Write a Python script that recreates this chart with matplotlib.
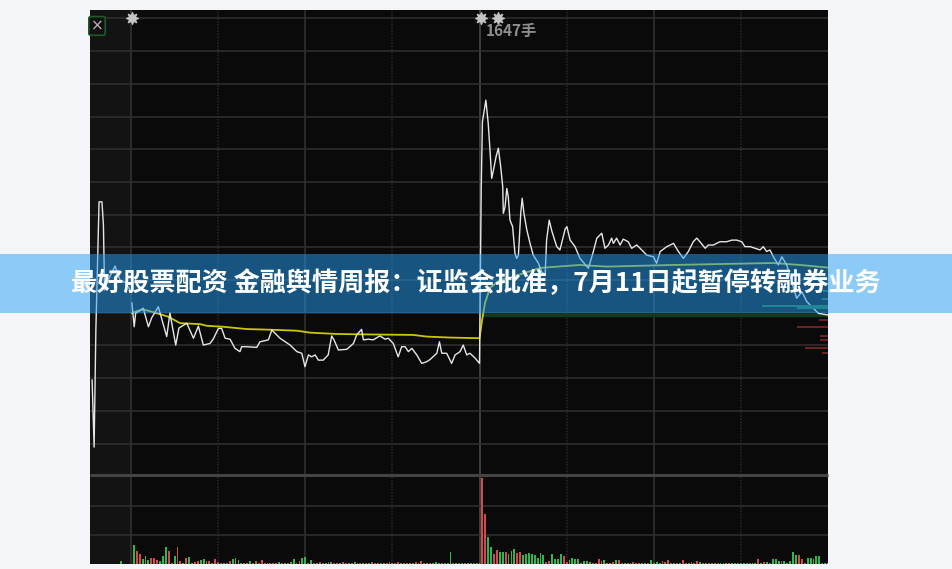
import matplotlib
matplotlib.use('Agg')
import matplotlib.pyplot as plt
from matplotlib.patches import Rectangle

plt.rcParams['font.family'] = ['Noto Sans CJK SC', 'DejaVu Sans']

# ---- data (minutes from the 9:30 open, % change vs previous close) ----
auction_min = [-13.4, -12.7, -12.1, -11.0, -10.0, -9.5, -9.1, -7.9, -6.5, -5.5, -3.8, -1.7, 0.0]
auction_pct = [-3.06, -5.11, -1.53, 2.39, 2.39, 1.68, -0.31, 0.0, 0.24, 0.43, 0.0, -0.09, -0.37]

price_min = [0.3, 1.1, 1.6, 2.5, 4.2, 6.0, 7.1, 9.4, 12.3, 13.4, 15.4, 16.5, 19.2, 21.5, 23.2,
             24.9, 27.2, 28.3, 30.1, 31.2, 32.4, 34.1, 35.8, 37.5, 38.1, 39.8, 43.3, 44.4, 47.3,
             48.5, 49.6, 51.3, 54.8, 57.1, 58.8, 59.9, 61.1, 62.2, 63.4, 64.5, 66.2, 67.9, 69.1,
             69.9, 71.4, 74.3, 76.6, 77.7, 79.4, 80.0, 81.7, 83.4, 85.7, 87.5, 88.6, 90.3, 92.0,
             93.2, 94.4, 95.5, 96.7, 98.4, 100.1, 101.8, 103.0, 105.3, 106.2, 107.0, 108.7, 110.4,
             111.6, 113.3, 114.4, 115.6, 116.7, 118.5, 120.0,
             120.6, 121.0, 122.2, 123.0, 123.6, 124.2, 124.8, 125.7, 126.5, 127.3, 128.0, 128.2,
             128.8, 129.4, 129.9, 130.5, 131.4, 132.2, 132.8, 133.4, 134.2, 134.7, 135.3, 136.3,
             137.4, 138.5, 140.3, 141.4, 142.6, 143.1, 144.0, 144.9, 146.6, 147.7, 149.5, 150.1,
             151.2, 152.9, 154.6, 157.5, 159.2, 160.4, 162.1, 163.2, 164.4, 165.5, 166.1, 167.2,
             168.4, 169.5, 171.2, 172.4, 174.1, 175.3, 177.6, 179.9, 181.0, 182.2, 184.5, 186.8,
             188.5, 190.2, 191.9, 193.6, 194.8, 195.9, 197.7, 198.8, 200.5, 202.8, 205.1, 206.9,
             208.6, 210.3, 211.4, 213.2, 214.9, 216.6, 217.7, 218.9, 220.0, 221.2, 222.9, 224.1,
             225.8, 227.5, 229.2, 231.0, 232.7, 235.0, 236.7, 240.0]
price_pct = [-0.70, -1.43, -1.01, -0.97, -0.86, -1.43, -1.16, -0.82, -1.73, -1.01, -1.99, -1.47,
             -1.32, -1.78, -1.41, -1.99, -1.94, -1.81, -1.48, -1.48, -1.78, -1.81, -2.09, -2.19,
             -2.04, -2.04, -2.06, -1.89, -1.83, -1.53, -1.63, -1.78, -1.99, -2.19, -2.24, -2.65,
             -2.29, -2.35, -2.29, -2.45, -2.45, -2.29, -1.71, -1.83, -2.14, -2.12, -1.94, -1.68,
             -1.51, -1.83, -1.81, -1.83, -1.71, -1.81, -1.78, -1.94, -2.35, -2.04, -2.04, -2.19,
             -2.09, -2.29, -2.55, -2.50, -2.43, -2.24, -1.89, -2.24, -2.24, -2.55, -2.29, -2.19,
             -1.99, -2.29, -2.24, -2.39, -2.55,
             2.85, 4.84, 5.50, 4.79, 3.98, 3.11, 3.36, 3.77, 4.03, 3.46, 2.85, 2.04, 2.24, 2.80,
             2.55, 1.83, 1.63, 0.82, 0.66, 0.76, 2.04, 2.50, 2.04, 1.53, 1.12, 0.76, 0.51, 0.25,
             0.15, 1.22, 1.83, 1.50, 1.02, 0.92, 1.56, 1.63, 1.22, 1.02, 0.66, 0.36, 0.87, 1.28,
             1.43, 0.97, 1.07, 1.28, 1.12, 1.28, 1.07, 1.25, 1.17, 0.97, 1.07, 0.97, 0.76, 0.71,
             0.51, 0.87, 1.02, 1.12, 0.87, 0.66, 0.87, 1.17, 1.28, 1.17, 0.97, 1.07, 1.07, 1.17,
             1.17, 1.22, 1.22, 1.17, 1.02, 1.02, 0.97, 0.92, 1.02, 0.87, 0.92, 0.71, 0.46, 0.71,
             0.46, -0.05, -0.56, -0.36, -0.66, -0.87, -1.02, -1.07]

avg_min = [0.3, 2.1, 4.2, 7.1, 12.8, 16.9, 23.8, 26.1, 31.8, 35.2, 39.8, 47.9, 57.1, 61.6, 70.8,
           77.7, 97.2, 101.8, 109.8, 120.0, 120.9, 121.9, 123.6, 127.1, 131.5, 140.8, 154.6,
           163.8, 186.6, 221.1, 230.4, 240.0]
avg_pct = [-1.01, -0.95, -0.90, -0.97, -1.12, -1.32, -1.35, -1.40, -1.43, -1.46, -1.50, -1.52,
           -1.55, -1.61, -1.65, -1.66, -1.68, -1.73, -1.76, -1.78, -1.22, -0.70, -0.24, 0.0,
           0.10, 0.37, 0.46, 0.41, 0.46, 0.52, 0.46, 0.38]

# volume in lots, minutes 1..240; 'r' = up tick, 'g' = down tick
volume = [363, 248, 185, 95, 153, 76, 109, 109, 76, 57,          # 1-10
          153, 325, 248, 20, 153, 325, 57, 25, 109, 134,         # 11-20
          20, 38, 57, 76, 90, 57, 57, 20, 95, 38,                # 21-30
          20, 20, 20, 57, 90, 109, 76, 25, 20, 20,               # 31-40
          57, 20, 57, 20, 76, 20, 20, 20, 20, 20,                # 41-50
          38, 20, 20, 20, 38, 101, 20, 57, 120, 134,             # 51-60
          20, 76, 25, 20, 38, 20, 25, 44, 38, 20,                # 61-70
          25, 20, 38, 20, 20, 25, 38, 20, 20, 25,                # 71-80
          20, 20, 38, 20, 20, 25, 20, 20, 38, 20,                # 81-90
          25, 44, 20, 20, 25, 20, 20, 38, 20, 57,                # 91-100
          25, 20, 20, 25, 38, 20, 20, 25, 20, 229,               # 101-110
          20, 20, 20, 25, 20, 20, 20, 20, 20, 20,                # 111-120
          1648, 961, 516, 325, 197, 262, 235, 235, 235, 197,     # 121-130
          248, 281, 216, 235, 166, 197, 216, 185, 172, 109,      # 131-140
          216, 172, 44, 57, 185, 90, 90, 197, 153, 44,           # 141-150
          76, 109, 90, 90, 25, 57, 57, 44, 20, 25,               # 151-160
          90, 57, 76, 20, 25, 44, 73, 76, 20, 20,                # 161-170
          20, 20, 38, 20, 20, 20, 20, 20, 76, 20,                # 171-180
          38, 20, 57, 44, 76, 20, 20, 20, 20, 76,                # 181-190
          25, 20, 38, 20, 57, 38, 20, 20, 20, 20,                # 191-200
          20, 20, 20, 20, 20, 20, 25, 20, 20, 25,                # 201-210
          20, 25, 20, 20, 20, 101, 20, 44, 38, 20,               # 211-220
          101, 90, 57, 57, 57, 20, 57, 229, 172, 172,            # 221-230
          90, 20, 109, 109, 90, 153, 153, 20, 20, 20]            # 231-240
vol_dir = ("grrgggrrrg" "ggrrgrrgrg" "grrggrrrrr" "rrrrgggrrg" "grrrrrggrr" "grgrggrrgg"
           "rgrgrrgrgr" "rgrrgrgrrg" "rgrrgrgrrg" "rrgrrgrrgr" "rgrgggrrgg" "rgrgrggrgg"
           "rrggrrggrg" "ggrrgggggg" "ggrrggggrr" "ggggggggrr" "rrgggrgrrg" "ggrrrggrgg"
           "grrrrrgrgr" "rgrrrgrgrr" "grgrgggrrr" "grrggrgrgr" "gggrgggggr" "rrgggggrgg")
auction_vol = 57

# order book depth at the right edge
ask_pct = [-0.34, -0.58, -0.80, -0.86]
ask_size = [27, 33, 358, 168]
bid_pct = [-1.22, -1.44, -1.71, -1.83, -2.08, -2.23]
bid_size = [49, 168, 43, 43, 125, 33]
last_pct = -1.07

marker_min = [0.2, 120.4, 126.5]
max_vol_label = '1647手'
title = '最好股票配资 金融舆情周报：证监会批准，7月11日起暂停转融券业务'

# ---- figure ----
fig = plt.figure(figsize=(9.52, 5.69), dpi=100)
fig.patch.set_facecolor('#f4f5f9')

L, W = 90 / 952, 738 / 952
ax = fig.add_axes([L, 1 - 475 / 569, W, 465 / 569])
axv = fig.add_axes([L, 1 - 564 / 569, W, 89 / 569])

for a in (ax, axv):
    a.set_facecolor('#0a0a0a')
    a.set_xlim(-14.12, 240)
    a.axvspan(-14.12, 0, color='#131313', lw=0, zorder=0)
    for m in (0, 60, 180):
        a.axvline(m, color='#303030', lw=1.2, zorder=1)
    a.axvline(120, color='#444444', lw=1.3, zorder=1)
    for m in (30, 90, 150, 210):
        a.axvline(m, color='#2a2a2a', lw=1.1, ls=(0, (1, 1)), zorder=1)
    for s in a.spines.values():
        s.set_visible(False)
    a.set_xticks([])
    a.set_yticks([])

ax.set_ylim(-5.963, 8.257)
for k in range(-5, 9):
    ax.axhline(k, color='#2e2e2e', lw=1.2, zorder=1)

ax.plot(auction_min, auction_pct, color='#e6e6e6', lw=1.0, zorder=3)
ax.plot(price_min, price_pct, color='#e6e6e6', lw=1.0, zorder=3)
ax.plot(avg_min, avg_pct, color='#c8c800', lw=1.3, zorder=2)
ax.hlines(last_pct, 120, 240, color='#0e3d1d', lw=2.5, zorder=1)

ax.scatter(marker_min, [8.01] * len(marker_min), marker=(8, 1, 0), s=70,
           color='#c4c4c4', zorder=5, clip_on=False)
ax.text(122.2, 7.61, max_vol_label, color='#8e8e8e', fontsize=11, fontweight='bold',
        ha='left', va='center', zorder=5)
ax.text(-11.7, 7.77, '×', color='#bbbbbb', fontsize=11, ha='center', va='center',
        family='DejaVu Sans', zorder=5,
        bbox=dict(boxstyle='round,pad=0.12', fc='#111111', ec='#1f5a2a', lw=1.2))

axd = ax.twiny()
axd.set_xlim(4000, 0)
axd.barh(ask_pct, ask_size, height=0.07, color='#1d6b33', zorder=2)
axd.barh(bid_pct, bid_size, height=0.07, color='#6b2222', zorder=2)
axd.set_xticks([])
for s in axd.spines.values():
    s.set_visible(False)

# volume panel
axv.set_ylim(0, 1700)
for v in (550, 1110):
    axv.axhline(v, color='#2e2e2e', lw=1.2, zorder=1)
axv.axhline(1700, color='#444444', lw=2.2, zorder=1, clip_on=False, solid_capstyle='butt')
mins = list(range(1, 241))
cols = ['#d24a4a' if c == 'r' else '#2fb84a' for c in vol_dir]
axv.bar(mins, volume, width=0.65, color=cols, zorder=2)
axv.bar([-3.5], [auction_vol], width=0.65, color='#2fb84a', zorder=2)

# banner
fig.add_artist(Rectangle((0, 1 - 313 / 569), 1, 59 / 569, transform=fig.transFigure,
                         facecolor=(37 / 255, 160 / 255, 246 / 255), alpha=0.5,
                         lw=0, zorder=10))
fig.text(0.5, 1 - 284 / 569, title, color='white', fontsize=18.8, fontweight='bold',
         ha='center', va='center', zorder=11)

fig.savefig('out.png', dpi=100, facecolor=fig.get_facecolor())
